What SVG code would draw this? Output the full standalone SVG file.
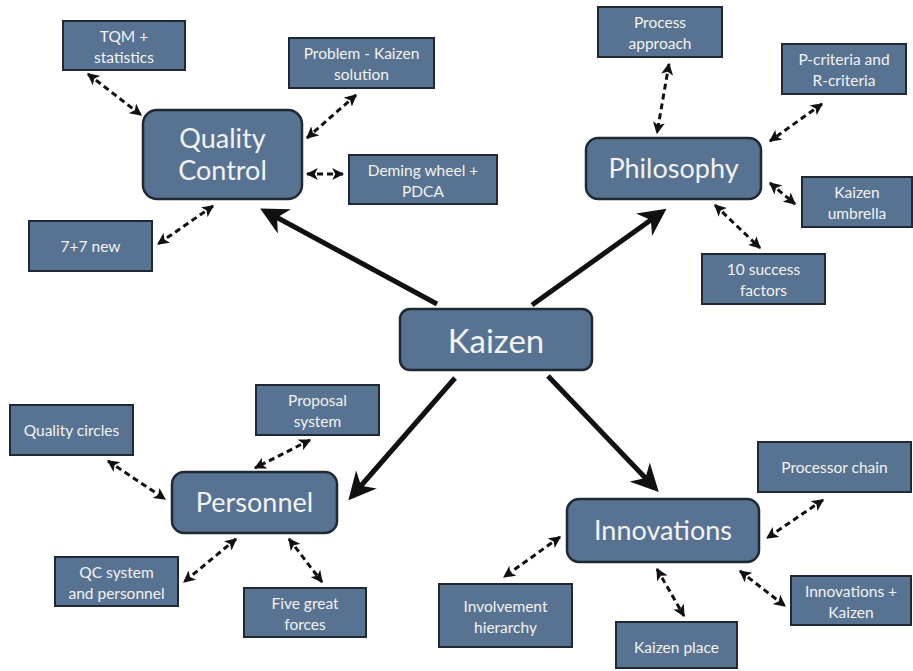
<svg xmlns="http://www.w3.org/2000/svg" width="913" height="671" viewBox="0 0 913 671">
<style>
.box{fill:#587391;stroke:#1f2833;stroke-width:2}
.main{fill:#587391;stroke:#1f2833;stroke-width:2.5}
.t{fill:#f2f2f2;font-family:Lato,"Open Sans",sans-serif;text-anchor:middle}
.s{font-size:15.5px}
.m{font-size:27px}
.k{font-size:33px}
.d{stroke:#111;stroke-width:3;stroke-dasharray:6 4;fill:none;marker-start:url(#ah);marker-end:url(#ah)}
.th{stroke:#111;stroke-width:5;fill:none;marker-end:url(#big)}
</style>
<defs>
<marker id="ah" viewBox="0 0 10 10" refX="9" refY="5" markerWidth="4" markerHeight="4" orient="auto-start-reverse" markerUnits="strokeWidth">
<path d="M0,0 L10,5 L0,10 L2.5,5 Z" fill="#111"/>
</marker>
<marker id="big" viewBox="0 0 10 10" refX="8" refY="5" markerWidth="5.5" markerHeight="5.5" orient="auto" markerUnits="strokeWidth">
<path d="M0,0 L10,5 L0,10 L3,5 Z" fill="#111"/>
</marker>
</defs>
<rect width="913" height="671" fill="#fff"/>

<g id="connectors">
<line class="th" x1="437" y1="304" x2="265" y2="211"/>
<line class="th" x1="532" y1="305" x2="662" y2="212"/>
<line class="th" x1="455" y1="378" x2="352" y2="496"/>
<line class="th" x1="548" y1="376" x2="655" y2="488"/>

<line class="d" x1="88" y1="74" x2="141" y2="115"/>
<line class="d" x1="356" y1="95" x2="307" y2="138"/>
<line class="d" x1="307" y1="174" x2="343" y2="174"/>
<line class="d" x1="213" y1="206" x2="158" y2="244"/>

<line class="d" x1="669" y1="64" x2="657" y2="133"/>
<line class="d" x1="822" y1="104" x2="770" y2="141"/>
<line class="d" x1="770" y1="183" x2="795" y2="204"/>
<line class="d" x1="715" y1="205" x2="760" y2="248"/>

<line class="d" x1="108" y1="461" x2="165" y2="499"/>
<line class="d" x1="310" y1="440" x2="255" y2="468"/>
<line class="d" x1="236" y1="539" x2="184" y2="582"/>
<line class="d" x1="289" y1="539" x2="322" y2="582"/>

<line class="d" x1="560" y1="537" x2="504" y2="577"/>
<line class="d" x1="657" y1="569" x2="684" y2="616"/>
<line class="d" x1="740" y1="571" x2="785" y2="606"/>
<line class="d" x1="823" y1="500" x2="767" y2="538"/>
</g>

<g id="kaizen">
<rect class="main" x="400" y="309" width="192" height="61" rx="10"/>
<text class="t k" x="496" y="353">Kaizen</text>
</g>

<g id="quality-control">
<rect class="main" x="143" y="110" width="159" height="89" rx="14"/>
<text class="t m" x="222.5" y="148">Quality</text>
<text class="t m" x="222.5" y="180">Control</text>
</g>
<g id="tqm">
<rect class="box" x="63" y="21" width="122" height="49"/>
<text class="t s" x="124" y="42">TQM +</text>
<text class="t s" x="124" y="63">statistics</text>
</g>
<g id="problem">
<rect class="box" x="289" y="38" width="145" height="50"/>
<text class="t s" x="361.5" y="59">Problem - Kaizen</text>
<text class="t s" x="361.5" y="80">solution</text>
</g>
<g id="deming">
<rect class="box" x="349" y="155" width="148" height="49"/>
<text class="t s" x="423" y="176">Deming wheel +</text>
<text class="t s" x="423" y="197">PDCA</text>
</g>
<g id="seven">
<rect class="box" x="29" y="221" width="123" height="50"/>
<text class="t s" x="90.5" y="252">7+7 new</text>
</g>

<g id="philosophy">
<rect class="main" x="586" y="138" width="175" height="61" rx="12"/>
<text class="t m" x="673.5" y="178">Philosophy</text>
</g>
<g id="process">
<rect class="box" x="598" y="7" width="124" height="50"/>
<text class="t s" x="660" y="28">Process</text>
<text class="t s" x="660" y="49">approach</text>
</g>
<g id="pcriteria">
<rect class="box" x="782" y="44" width="124" height="50"/>
<text class="t s" x="844" y="65">P-criteria and</text>
<text class="t s" x="844" y="86">R-criteria</text>
</g>
<g id="umbrella">
<rect class="box" x="802" y="177" width="110" height="50"/>
<text class="t s" x="857" y="198">Kaizen</text>
<text class="t s" x="857" y="219">umbrella</text>
</g>
<g id="success">
<rect class="box" x="702" y="254" width="123" height="50"/>
<text class="t s" x="763.5" y="275">10 success</text>
<text class="t s" x="763.5" y="296">factors</text>
</g>

<g id="personnel">
<rect class="main" x="172" y="472" width="165" height="61" rx="12"/>
<text class="t m" x="254.5" y="512">Personnel</text>
</g>
<g id="circles">
<rect class="box" x="10" y="405" width="123" height="50"/>
<text class="t s" x="71.5" y="436">Quality circles</text>
</g>
<g id="proposal">
<rect class="box" x="256" y="385" width="123" height="50"/>
<text class="t s" x="317.5" y="406">Proposal</text>
<text class="t s" x="317.5" y="427">system</text>
</g>
<g id="qcsystem">
<rect class="box" x="55" y="557" width="123" height="49"/>
<text class="t s" x="116.5" y="578">QC system</text>
<text class="t s" x="116.5" y="599">and personnel</text>
</g>
<g id="five">
<rect class="box" x="244" y="588" width="122" height="49"/>
<text class="t s" x="305" y="609">Five great</text>
<text class="t s" x="305" y="630">forces</text>
</g>

<g id="innovations">
<rect class="main" x="567" y="499" width="192" height="63" rx="12"/>
<text class="t m" x="663" y="540">Innovations</text>
</g>
<g id="processor">
<rect class="box" x="758" y="442" width="153" height="50"/>
<text class="t s" x="834.5" y="473">Processor chain</text>
</g>
<g id="innovkaizen">
<rect class="box" x="791" y="576" width="120" height="49"/>
<text class="t s" x="851" y="597">Innovations +</text>
<text class="t s" x="851" y="618">Kaizen</text>
</g>
<g id="involvement">
<rect class="box" x="439" y="584" width="133" height="63"/>
<text class="t s" x="505.5" y="612">Involvement</text>
<text class="t s" x="505.5" y="633">hierarchy</text>
</g>
<g id="place">
<rect class="box" x="616" y="622" width="121" height="46"/>
<text class="t s" x="676.5" y="653">Kaizen place</text>
</g>
</svg>
